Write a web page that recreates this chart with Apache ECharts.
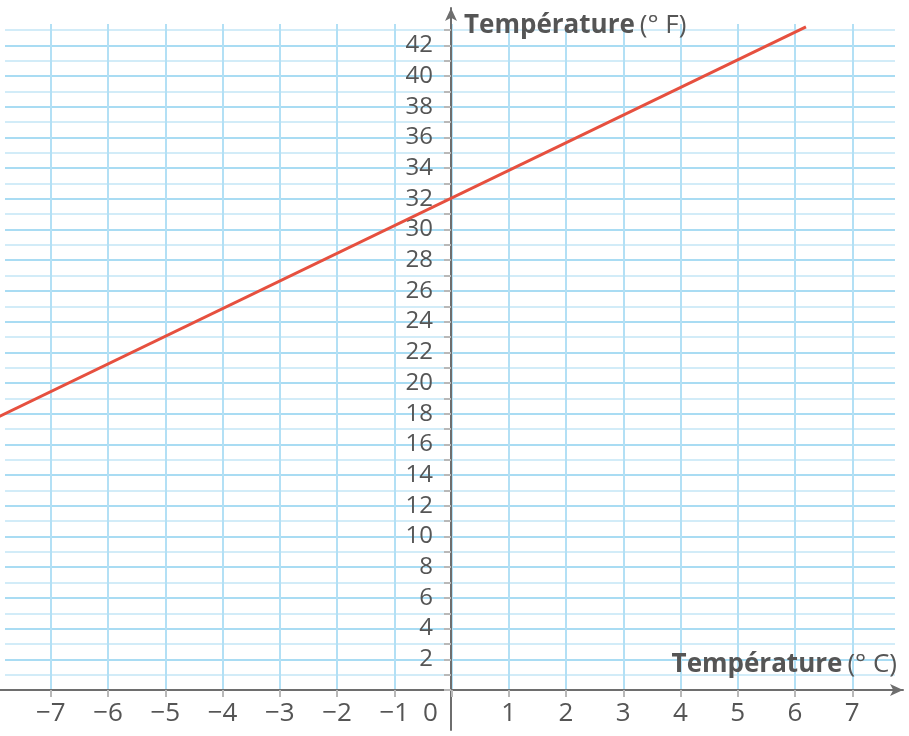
<!DOCTYPE html>
<html><head><meta charset="utf-8">
<script src="https://cdn.jsdelivr.net/npm/echarts@6/dist/echarts.min.js"></script>
<style>html,body{margin:0;padding:0;background:#fff}#c{width:909px;height:736px}</style>
</head><body><div id="c"></div>
<script>
// Data
const celsius = [-7.9, 6.2];
const fahrenheit = [17.8, 43.2];
const xTicks = [-7, -6, -5, -4, -3, -2, -1, 0, 1, 2, 3, 4, 5, 6, 7];
const yTickLabels = [2, 4, 6, 8, 10, 12, 14, 16, 18, 20, 22, 24, 26, 28, 30, 32, 34, 36, 38, 40, 42];
const yName = 'Température';
const yUnit = '(° F)';
const xName = 'Température';
const xUnit = '(° C)';

const FONT = '"Open Sans", "Noto Sans", sans-serif';
const TXT = '#555';
const chart = echarts.init(document.getElementById('c'), null, {renderer: 'canvas'});
const lineData = celsius.map((c, i) => [c, fahrenheit[i]]);
const hidden = {axisLine: {show: false}, axisTick: {show: false}, axisLabel: {show: false}, splitLine: {show: false}};

chart.setOption({
  animation: false,
  backgroundColor: '#fff',
  title: [
    {text: '{b|' + yName + '} {n|' + yUnit + '}', left: 464, top: 13, padding: 0,
     textStyle: {rich: {b: {fontSize: 26, fontWeight: 'bold', color: TXT, fontFamily: FONT},
                        n: {fontSize: 26, fontWeight: 'normal', color: TXT, fontFamily: FONT}}}},
    {text: '{b|' + xName + '} {n|' + xUnit + '}', right: 12, top: 652, padding: 0,
     textStyle: {rich: {b: {fontSize: 26, fontWeight: 'bold', color: TXT, fontFamily: FONT},
                        n: {fontSize: 26, fontWeight: 'normal', color: TXT, fontFamily: FONT}}}}
  ],
  grid: [
    // 0: vertical grid lines + x ticks/labels (x from -7 to 7)
    {left: 50.75, right: 56.75, top: 24, bottom: 46},
    // 1: horizontal grid lines (y from 0 to 43)
    {left: 5, right: 14, top: 30, bottom: 46},
    // 2: y ticks/labels, grid starts at x = 0
    {left: 451, right: 14, top: 30, bottom: 46},
    // 3: axis lines + series
    {left: 0, right: 6, top: 8, bottom: 6}
  ],
  xAxis: [
    {gridIndex: 0, type: 'value', min: -7, max: 7, interval: 1,
     axisLine: {show: false},
     axisTick: {show: true, length: 7, lineStyle: {color: '#b8b8b8', width: 2}},
     axisLabel: {show: true, margin: 11, fontSize: 26, color: TXT, fontFamily: FONT,
       formatter: v => {
         if (xTicks.indexOf(v) < 0) return '';
         if (v === 0) return '{o|0}';
         return v < 0 ? '\u2212' + (-v) : String(v);
       },
       rich: {o: {fontSize: 26, color: TXT, fontFamily: FONT, padding: [0, 42, 0, 0]}}},
     splitLine: {show: true, lineStyle: {color: '#b3e0f5', width: 2}}},
    Object.assign({gridIndex: 1, type: 'value', min: 0, max: 1}, hidden),
    Object.assign({gridIndex: 2, type: 'value', min: 0, max: 1}, hidden),
    {gridIndex: 3, type: 'value', min: -7.878, max: 7.895,
     axisLine: {show: true, onZero: true, symbol: ['none', 'arrow'], symbolSize: [9, 13],
       lineStyle: {color: '#6e6e6e', width: 2}},
     axisTick: {show: false}, axisLabel: {show: false}, splitLine: {show: false}}
  ],
  yAxis: [
    Object.assign({gridIndex: 0, type: 'value', min: 0, max: 1}, hidden),
    {gridIndex: 1, type: 'value', min: 0, max: 43, interval: 1,
     axisLine: {show: false}, axisTick: {show: false}, axisLabel: {show: false},
     splitLine: {show: true, lineStyle: {color: ['#a9dcf3', '#d2ecf8'], width: 2}}},
    {gridIndex: 2, type: 'value', min: 0, max: 43, interval: 1, position: 'left',
     axisLine: {show: false},
     axisTick: {show: true, length: 7, lineStyle: {color: '#b8b8b8', width: 2}},
     axisLabel: {show: true, margin: 18, fontSize: 24, color: TXT, fontFamily: FONT,
       formatter: v => yTickLabels.indexOf(v) >= 0 ? String(v) : ''},
     splitLine: {show: false}},
    {gridIndex: 3, type: 'value', min: -2.606, max: 44.43,
     axisLine: {show: true, onZero: true, symbol: ['none', 'arrow'], symbolSize: [9, 13],
       lineStyle: {color: '#6e6e6e', width: 2}},
     axisTick: {show: false}, axisLabel: {show: false}, splitLine: {show: false}}
  ],
  series: [{
    type: 'line', xAxisIndex: 3, yAxisIndex: 3, data: lineData,
    showSymbol: false, symbol: 'none',
    lineStyle: {color: '#e6503f', width: 3}, z: 5
  }]
});
</script></body></html>
